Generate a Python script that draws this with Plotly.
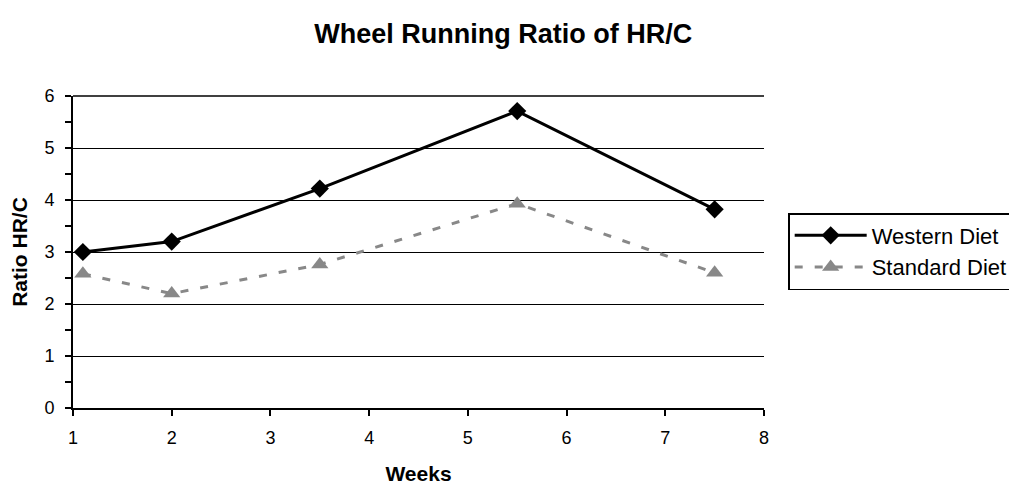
import plotly.graph_objects as go

weeks = [1.1, 2, 3.5, 5.5, 7.5]
western = [3.0, 3.2, 4.22, 5.71, 3.82]
standard = [2.58, 2.2, 2.76, 3.93, 2.6]

fig = go.Figure()
fig.add_trace(go.Scatter(
    x=weeks, y=western, name="Western Diet", mode="lines+markers",
    line=dict(color="black", width=3),
    marker=dict(symbol="diamond", size=14, color="black"),
))
fig.add_trace(go.Scatter(
    x=weeks, y=standard, name="Standard Diet", mode="lines+markers",
    line=dict(color="#888888", width=3, dash="8px,12px"),
    marker=dict(symbol="triangle-up", size=15, color="#888888"),
))

FONT = "Liberation Sans, Arial, sans-serif"
fig.update_layout(
    width=1017, height=495,
    margin=dict(l=65, r=261, t=88, b=95, autoexpand=False),
    paper_bgcolor="white", plot_bgcolor="white",
    font=dict(family=FONT, size=18, color="black"),
    title=dict(text="<b>Wheel Running Ratio of HR/C</b>", x=0.487, xanchor="center",
               xref="container", y=0.949, yref="container", yanchor="middle",
               font=dict(size=27)),
    showlegend=True,
    legend=dict(x=1.035, y=0.625, xanchor="left", yanchor="top",
                bordercolor="black", borderwidth=1.5, bgcolor="white",
                font=dict(size=22), tracegroupgap=0, itemwidth=72),
    xaxis=dict(
        range=[1, 8], dtick=1, tick0=1, showgrid=False, zeroline=False,
        showline=True, linecolor="black", linewidth=2, automargin=False,
        ticks="outside", ticklen=6, tickwidth=1.5, tickcolor="black",
        tickfont=dict(size=18), ticklabelstandoff=6,
        title=dict(text="<b>Weeks</b>", font=dict(size=21), standoff=20),
    ),
    yaxis=dict(
        range=[0, 6], dtick=1, showgrid=True, gridcolor="black", gridwidth=1.3,
        zeroline=False, showline=True, linecolor="black", linewidth=2, automargin=False,
        ticks="outside", ticklen=6, tickwidth=1.5, tickcolor="black",
        tickfont=dict(size=18), ticklabelstandoff=7,
        minor=dict(dtick=0.5, ticks="outside", ticklen=6, tickwidth=1.5,
                   tickcolor="black", showgrid=False),
        title=dict(text="<b>Ratio HR/C</b>", font=dict(size=21), standoff=14),
    ),
)
fig.add_shape(type="line", xref="paper", yref="paper", x0=0, x1=1, y0=1, y1=1,
              line=dict(color="black", width=1.3))

fig.write_html("out.html")
